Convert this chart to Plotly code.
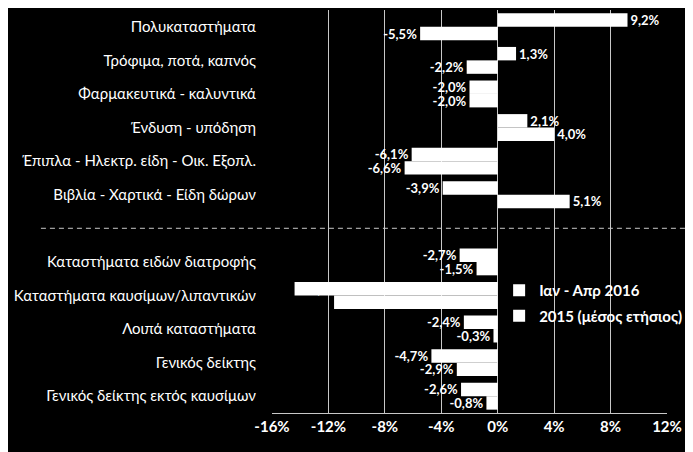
import plotly.graph_objects as go

categories = [
    "Πολυκαταστήματα",
    "Τρόφιμα, ποτά, καπνός",
    "Φαρμακευτικά - καλυντικά",
    "Ένδυση - υπόδηση",
    "Έπιπλα - Ηλεκτρ. είδη - Οικ. Εξοπλ.",
    "Βιβλία - Χαρτικά - Είδη δώρων",
    " ",
    "Καταστήματα ειδών διατροφής",
    "Καταστήματα καυσίμων/λιπαντικών",
    "Λοιπά καταστήματα",
    "Γενικός δείκτης",
    "Γενικός δείκτης εκτός καυσίμων",
]
series_names = ["Ιαν - Απρ 2016", "2015 (μέσος ετήσιος)"]
values_2016 = [9.2, 1.3, -2.0, 2.1, -6.1, -3.9, None, -2.7, -14.4, -2.4, -4.7, -2.6]
values_2015 = [-5.5, -2.2, -2.0, 4.0, -6.6, 5.1, None, -1.5, -11.6, -0.3, -2.9, -0.8]
tick_vals = [-16, -12, -8, -4, 0, 4, 8, 12]
tick_text = ["-16%", "-12%", "-8%", "-4%", "0%", "4%", "8%", "12%"]

FONT = "Lato"

def positions(vals):
    return ["inside" if (v is not None and v < -10) else "outside" for v in vals]

fig = go.Figure()
for i, (name, vals) in enumerate(zip(series_names, [values_2016, values_2015])):
    fig.add_trace(go.Bar(
        y=categories, x=vals, name=name, orientation="h",
        legendgroup=f"g{i}",
        marker=dict(color="white", line=dict(width=0)),
        texttemplate="%{x:.1f}%", textposition=positions(vals),
        textfont=dict(color="white", size=13, family=FONT, weight="bold"),
        insidetextanchor="end", cliponaxis=False, constraintext="none",
    ))

# page body adds an 8px offset; figure is sized to compensate
fig.update_layout(
    width=685, height=444,
    paper_bgcolor="black", plot_bgcolor="black",
    margin=dict(l=264, r=26, t=2, b=39, autoexpand=False),
    barmode="group", bargap=0.2, bargroupgap=0,
    separators=",.",
    font=dict(family=FONT, color="white"),
    showlegend=True,
    legend=dict(x=0.575, y=0.345, xanchor="left", yanchor="top",
                bgcolor="rgba(0,0,0,0)", itemwidth=30,
                font=dict(size=15, family=FONT, color="white", weight="bold"),
                tracegroupgap=3),
    xaxis=dict(range=[-16, 12], tickvals=tick_vals, ticktext=tick_text,
               showgrid=True, gridcolor="#c8c8c8", gridwidth=1,
               zeroline=False, showline=True, linecolor="#c8c8c8",
               tickfont=dict(size=15, family=FONT, color="white", weight="bold"),
               ticks="", automargin=False, fixedrange=True),
    yaxis=dict(autorange="reversed", type="category",
               tickfont=dict(size=15, family=FONT, color="white"),
               ticklabelstandoff=15, showgrid=False, zeroline=False,
               showline=False, ticks="", automargin=False),
)

fig.add_shape(type="line", xref="paper", yref="y",
              x0=-0.585, x1=1.07, y0=" ", y1=" ",
              line=dict(color="#c8c8c8", width=1, dash="5px,4px"))

fig.write_html("out.html")
